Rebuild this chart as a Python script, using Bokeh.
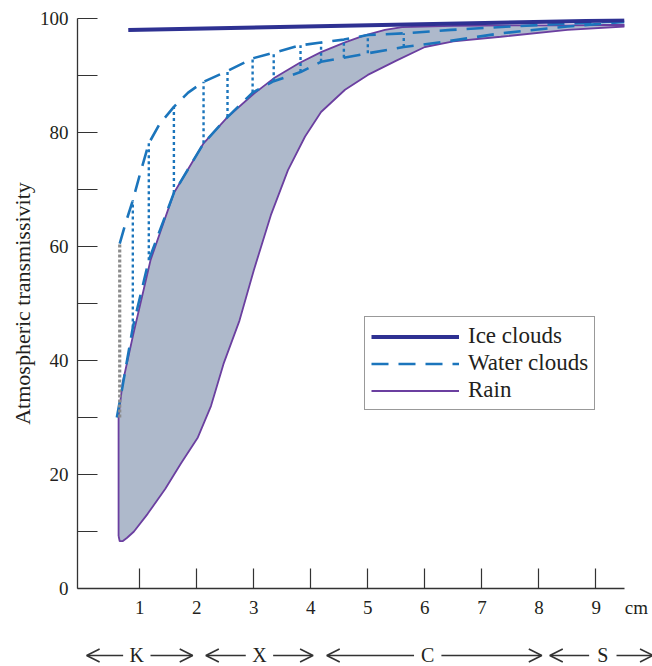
import numpy as np
from bokeh.plotting import figure
from bokeh.layouts import column
from bokeh.core.properties import value
from bokeh.models import (Range1d, FixedTicker, Legend, LegendItem, Arrow,
                          OpenHead, ColumnDataSource)
from bokeh.embed import file_html
from bokeh.resources import INLINE

# Wavelength (cm) vs. atmospheric transmissivity (%)
ice_x = [0.8, 9.5]
ice_y = [98.0, 99.7]

water_upper_x = [0.65, 0.75, 0.88, 1.0, 1.16, 1.35, 1.6, 1.85, 2.12, 2.54, 2.98,
                 3.35, 3.82, 4.18, 4.58, 5.0, 5.63, 6.46, 7.5, 8.5, 9.5]
water_upper_y = [60.5, 64.0, 68.1, 72.5, 78.1, 81.5, 84.5, 87.0, 88.9, 90.8, 93.0,
                 94.0, 95.3, 95.8, 96.3, 97.1, 97.4, 98.0, 98.6, 99.1, 99.5]

water_lower_x = [0.6, 0.7, 0.88, 1.16, 1.6, 2.12, 2.54, 2.98, 3.35, 3.82, 4.18,
                 4.58, 5.0, 5.63, 6.33, 7.33, 8.5, 9.5]
water_lower_y = [30.0, 35.5, 45.8, 57.6, 69.4, 78.1, 82.7, 87.0, 89.0, 90.6, 92.4,
                 93.1, 93.9, 95.0, 95.9, 97.4, 98.6, 99.4]

# positions of the dotted ties between the two water-cloud bounds
water_tie_x = [0.88, 1.16, 1.6, 2.12, 2.54, 2.98, 3.35, 3.82, 4.18, 4.58, 5.0, 5.63]

rain_upper_x = [0.63, 0.7, 0.89, 1.19, 1.6, 2.12, 2.54, 3.0, 3.35, 3.8, 4.18,
                4.6, 4.93, 5.3, 5.6, 6.5, 7.5, 8.5, 9.5]
rain_upper_y = [30.3, 36.0, 44.7, 57.6, 69.4, 78.1, 82.7, 86.8, 89.5, 92.2, 94.1,
                95.8, 97.0, 98.0, 98.5, 98.7, 98.8, 98.8, 98.9]

rain_lower_x = [0.63, 0.65, 0.7, 0.78, 0.9, 1.14, 1.45, 1.72, 2.02, 2.25, 2.47,
                2.75, 3.0, 3.3, 3.6, 3.9, 4.18, 4.6, 5.0, 5.5, 6.0, 6.5, 7.33,
                8.5, 9.5]
rain_lower_y = [9.2, 8.3, 8.3, 8.9, 10.0, 13.1, 17.5, 21.9, 26.5, 32.0, 39.4,
                47.0, 55.8, 65.5, 73.4, 79.3, 83.6, 87.5, 90.1, 92.6, 95.0, 96.0,
                96.8, 98.0, 98.6]

gray_x = [0.65, 0.65]
gray_y = [30.0, 60.5]

x_ticks = [1, 2, 3, 4, 5, 6, 7, 8, 9]
y_ticks = [0, 20, 40, 60, 80, 100]
y_minor = [10, 30, 50, 70, 90]
x_unit = "cm"

# radar bands along the wavelength axis
band_names = ["K", "X", "C", "S"]
band_start = [0.07, 2.16, 4.28, 8.19]
band_end = [1.93, 4.04, 8.05, 10.0]
band_label_x = [0.95, 3.1, 6.05, 9.12]

FONT = "Liberation Serif"
INK = "#231f20"
ICE = "#2e3192"
WATER = "#1b75bc"
RAIN = "#6b3fa0"
RAIN_FILL = "#aeb9cb"

W = 652
LEFT, RIGHT = 77, 28
X0, X1 = -0.09, 9.5
px_per_cm = (W - LEFT - RIGHT) / (X1 - X0)

p = figure(width=W, height=620, output_backend="svg", toolbar_location=None,
           x_range=Range1d(X0, X1), y_range=Range1d(0, 100),
           min_border_left=LEFT, min_border_right=RIGHT, min_border_top=18,
           min_border_bottom=32)
p.frame_align = False
p.outline_line_color = None
p.grid.grid_line_color = None

# rain envelope: filled area plus its outline
poly_x = rain_lower_x + rain_upper_x[::-1] + rain_lower_x[:1]
poly_y = rain_lower_y + rain_upper_y[::-1] + rain_lower_y[:1]
p.patch(poly_x, poly_y, fill_color=RAIN_FILL, line_color=None)
rain_r = p.line(poly_x, poly_y, line_color=RAIN, line_width=1.8)

# water-cloud bounds and ties
water_r = p.line(water_upper_x, water_upper_y, line_color=WATER, line_width=2.6,
                 line_dash="17 10")
p.line(water_lower_x, water_lower_y, line_color=WATER, line_width=2.6,
       line_dash="17 10")
tie_top = np.interp(water_tie_x, water_upper_x, water_upper_y)
tie_bot = np.interp(water_tie_x, water_lower_x, water_lower_y)
p.segment(x0=water_tie_x, y0=tie_bot, x1=water_tie_x, y1=tie_top,
          line_color=WATER, line_width=2.4, line_dash="3 3")

# gray dotted connector at the short end
p.line(gray_x, gray_y, line_color="#8c8c8c", line_width=3.2, line_dash="3 2")

# ice clouds
ice_r = p.line(ice_x, ice_y, line_color=ICE, line_width=4)

# axes
for ax in (p.xaxis[0], p.yaxis[0]):
    ax.axis_line_color = "#333333"
    ax.axis_line_width = 1.3
    ax.major_tick_line_color = "#333333"
    ax.major_tick_line_width = 1.2
    ax.major_tick_in = 20
    ax.major_tick_out = 0
    ax.major_label_text_font = FONT
    ax.major_label_text_font_size = "19px"
    ax.major_label_text_color = INK

NB = "\u00a0"
p.xaxis.ticker = FixedTicker(ticks=x_ticks)
p.xaxis.minor_tick_line_color = None
p.xaxis.major_label_standoff = 8
# the unit sits to the right of the last tick value, padded so "9" stays centred
p.xaxis.major_label_overrides = {x_ticks[-1]: NB * 10 + str(x_ticks[-1]) + NB * 5 + x_unit}

p.yaxis.ticker = FixedTicker(ticks=y_ticks, minor_ticks=y_minor)
p.yaxis.minor_tick_line_color = "#333333"
p.yaxis.minor_tick_line_width = 1.2
p.yaxis.minor_tick_in = 20
p.yaxis.minor_tick_out = 0
p.yaxis.major_label_standoff = 9
p.yaxis.axis_label = "Atmospheric transmissivity"
p.yaxis.axis_label_text_font = FONT
p.yaxis.axis_label_text_font_style = "normal"
p.yaxis.axis_label_text_font_size = "22px"
p.yaxis.axis_label_text_color = INK
p.yaxis.axis_label_standoff = 2

legend = Legend(items=[LegendItem(label="Ice clouds", renderers=[ice_r]),
                       LegendItem(label="Water clouds", renderers=[water_r]),
                       LegendItem(label="Rain", renderers=[rain_r])],
                location=(287, 178), margin=0, padding=6, spacing=1,
                glyph_width=88, glyph_height=23, label_height=23,
                label_standoff=9, label_text_font=FONT,
                label_text_font_size="23px", label_text_color=INK,
                border_line_color="#333333", border_line_width=1.3,
                background_fill_color="white", background_fill_alpha=1.0)
p.add_layout(legend)

# strip of radar-band arrows, on the same wavelength scale as the chart above
p2 = figure(width=W, height=46, output_backend="svg", toolbar_location=None,
            x_range=Range1d(X0 - LEFT / px_per_cm, X1 + RIGHT / px_per_cm),
            y_range=Range1d(0, 1), min_border_left=0, min_border_right=0,
            min_border_top=0, min_border_bottom=0)
p2.frame_align = False
p2.axis.visible = False
p2.grid.grid_line_color = None
p2.outline_line_color = None

band_y = 0.24
gap = 0.24
p2.text(x="x", y="y", text="t",
        source=ColumnDataSource(dict(x=band_label_x, y=[band_y] * 4,
                                     t=band_names)),
        text_font=value(FONT), text_font_size="20px", text_color=INK,
        text_align="center", text_baseline="middle")
for mid, s, e in zip(band_label_x, band_start, band_end):
    for tail, tip in ((mid - gap, s), (mid + gap, e)):
        p2.add_layout(Arrow(x_start=tail, y_start=band_y, x_end=tip, y_end=band_y,
                            line_color="#333333", line_width=1.6, start=None,
                            end=OpenHead(size=13, line_color="#333333",
                                         line_width=1.6)))

layout = column(p, p2, spacing=0)
open("out.html", "w").write(file_html(layout, INLINE))
